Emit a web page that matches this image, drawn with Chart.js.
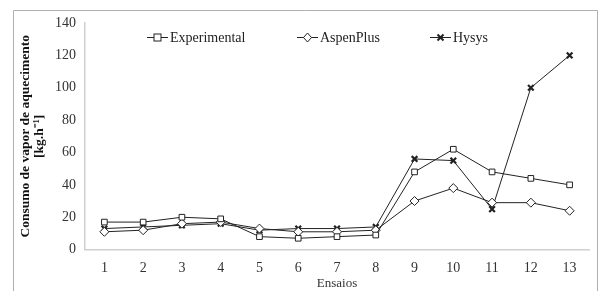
<!DOCTYPE html>
<html>
<head>
<meta charset="utf-8">
<script src="https://cdn.jsdelivr.net/npm/chart.js@4"></script>
<style>
  html, body { margin: 0; padding: 0; background: #fff; }
  #wrap { width: 609px; height: 291px; position: relative; }
</style>
</head>
<body>
<div id="wrap"><canvas id="grafico" width="609" height="291"></canvas></div>
<script>
const ensaios = ['1', '2', '3', '4', '5', '6', '7', '8', '9', '10', '11', '12', '13'];
const experimental = [17, 17, 20, 19, 8, 7, 8, 9, 48, 62, 48, 44, 40];
const aspenPlus = [11, 12, 16, 17, 13, 11, 11, 12, 30, 38, 29, 29, 24];
const hysys = [13, 14, 15, 16, 12, 13, 13, 14, 56, 55, 25, 100, 120];

const cor = '#222';
const fonte = 'Liberation Serif';

function desenhaMarcador(g, estilo, x, y) {
  g.save();
  g.strokeStyle = cor;
  g.fillStyle = '#fff';
  g.lineWidth = 1;
  if (estilo === 'rect') {
    g.fillRect(x - 3.5, y - 3.5, 7, 7); g.strokeRect(x - 3.5, y - 3.5, 7, 7);
  } else if (estilo === 'rectRot') {
    g.beginPath(); g.moveTo(x, y - 4.5); g.lineTo(x + 4, y); g.lineTo(x, y + 4.5); g.lineTo(x - 4, y); g.closePath();
    g.fill(); g.stroke();
  } else {
    g.lineWidth = 2;
    g.beginPath(); g.moveTo(x - 3, y - 3); g.lineTo(x + 3, y + 3); g.moveTo(x + 3, y - 3); g.lineTo(x - 3, y + 3); g.stroke();
  }
  g.restore();
}

// moldura cinza e legenda (linha + marcador + texto) dentro da area do grafico
const extras = {
  id: 'extras',
  beforeDraw(chart) {
    const g = chart.ctx;
    g.save();
    g.strokeStyle = '#b0b0b0';
    g.lineWidth = 1;
    g.beginPath();
    g.moveTo(13.5, 292); g.lineTo(13.5, 10.5); g.lineTo(597.5, 10.5); g.lineTo(597.5, 292);
    g.stroke();
    g.restore();
  },
  afterDraw(chart) {
    const g = chart.ctx;
    const estilos = ['rect', 'rectRot', 'crossRot'];
    const inicio = [147, 297, 430];
    const y = 37;
    g.save();
    g.font = '14px "' + fonte + '"';
    g.textBaseline = 'middle';
    g.fillStyle = '#222';
    chart.data.datasets.forEach((ds, i) => {
      const x = inicio[i];
      g.strokeStyle = cor; g.lineWidth = 1;
      g.beginPath(); g.moveTo(x, y + 0.5); g.lineTo(x + 21, y + 0.5); g.stroke();
      desenhaMarcador(g, estilos[i], x + 10.5, y + 0.5);
      g.fillText(ds.label, x + 23, y + 1);
    });
    g.restore();
  }
};

const serie = (nome, valores, estilo, raio, espessura) => ({
  label: nome,
  data: valores,
  borderColor: cor,
  borderWidth: 1,
  backgroundColor: '#fff',
  pointStyle: estilo,
  pointRadius: raio,
  pointBorderWidth: espessura,
  pointBorderColor: cor,
  pointBackgroundColor: '#fff',
  tension: 0
});

new Chart(document.getElementById('grafico'), {
  type: 'line',
  data: {
    labels: ensaios,
    datasets: [
      serie('Experimental', experimental, 'rect', 4, 1),
      serie('AspenPlus', aspenPlus, 'rectRot', 4.5, 1),
      serie('Hysys', hysys, 'crossRot', 4, 2.2)
    ]
  },
  options: {
    responsive: false,
    animation: false,
    layout: { padding: { left: 19, right: 20, top: 23, bottom: 0 } },
    plugins: {
      legend: { display: false },
      tooltip: { enabled: false }
    },
    scales: {
      x: {
        offset: true,
        grid: { display: false, drawTicks: false },
        border: { color: '#d0d0d0', width: 1.5 },
        ticks: { color: '#333', font: { family: fonte, size: 14 }, padding: 10 },
        title: {
          display: true,
          text: 'Ensaios',
          color: '#333',
          font: { family: fonte, size: 13 },
          padding: { top: -11, bottom: 0 }
        }
      },
      y: {
        min: 0,
        max: 140,
        ticks: { stepSize: 20, color: '#333', font: { family: fonte, size: 14 }, padding: 9 },
        grid: { display: false, drawTicks: false },
        border: { color: '#d0d0d0', width: 1.5 },
        title: {
          display: true,
          text: ['Consumo de vapor de aquecimento', '[kg.h\u207B\u00B9]'],
          color: '#111',
          font: { family: fonte, size: 13.5, weight: 'bold', lineHeight: 1.0 },
          padding: { top: 0, bottom: 0 }
        }
      }
    }
  },
  plugins: [extras]
});
</script>
</body>
</html>
